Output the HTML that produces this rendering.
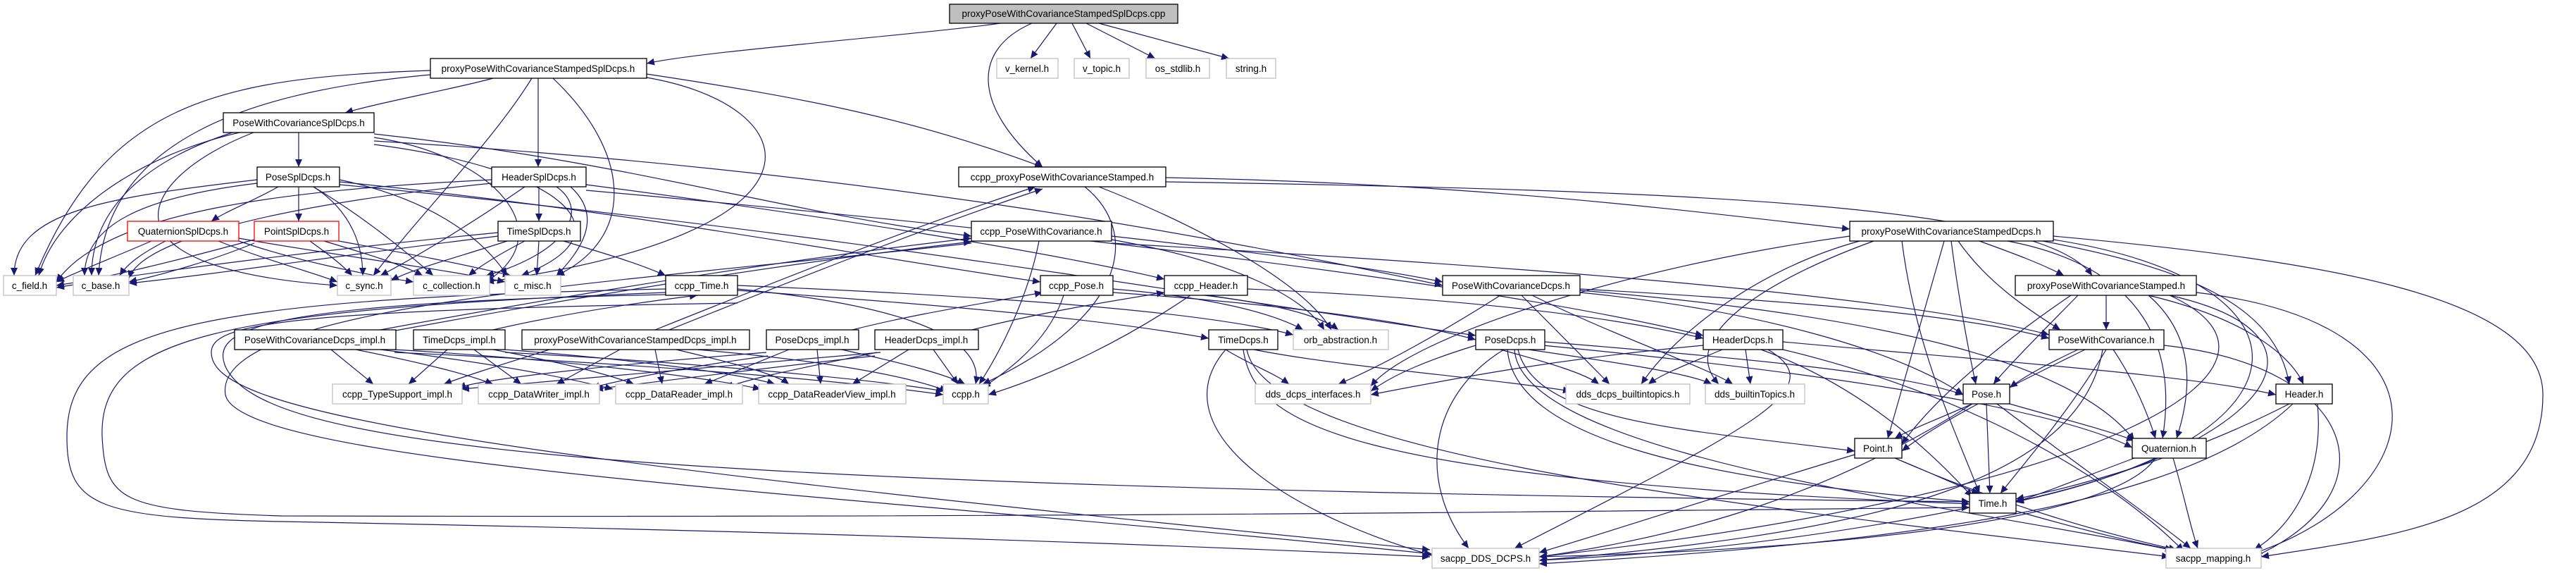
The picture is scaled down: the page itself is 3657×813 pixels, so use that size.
<!DOCTYPE html>
<html><head><meta charset="utf-8"><style>
html,body{margin:0;padding:0;background:#fff;}
svg{display:block;}
text{font-family:"Liberation Sans",sans-serif;font-size:13.5px;fill:#000;}
.e path{fill:none;stroke:#191970;stroke-width:1.2;}
</style></head><body>
<svg width="3657" height="813" viewBox="0 0 3657 813" xmlns="http://www.w3.org/2000/svg">
<defs><marker id="a" markerUnits="userSpaceOnUse" markerWidth="12" markerHeight="10" refX="11" refY="5" orient="auto"><path d="M0,0 L11,5 L0,10 z" fill="#191970"/></marker></defs>
<g class="e" marker-end="url(#a)">
<path marker-end="url(#a)" d="M1420 33 C1300 50 1000 72 918 90"/>
<path marker-end="url(#a)" d="M1465 33 C1380 70 1380 150 1480 237"/>
<path marker-end="url(#a)" d="M1500 33 L1463 83"/>
<path marker-end="url(#a)" d="M1522 33 L1548 83"/>
<path marker-end="url(#a)" d="M1542 33 L1640 83"/>
<path marker-end="url(#a)" d="M1560 33 L1745 83"/>
<path marker-end="url(#a)" d="M700 111 C650 125 540 145 490 160"/>
<path marker-end="url(#a)" d="M611 100 C300 110 150 150 50 391"/>
<path marker-end="url(#a)" d="M611 106 C350 130 150 200 140 391"/>
<path marker-end="url(#a)" d="M755 111 C700 200 600 300 530 391"/>
<path marker-end="url(#a)" d="M764 111 L764 237"/>
<path marker-end="url(#a)" d="M785 111 C900 220 900 340 790 391"/>
<path marker-end="url(#a)" d="M918 105 C1150 140 1300 170 1480 237"/>
<path marker-end="url(#a)" d="M918 110 C1150 150 1200 330 690 400"/>
<path marker-end="url(#a)" d="M424 188 L424 237"/>
<path marker-end="url(#a)" d="M340 188 C200 220 80 300 55 391"/>
<path marker-end="url(#a)" d="M330 188 C200 230 130 300 130 391"/>
<path marker-end="url(#a)" d="M360 188 C200 250 120 380 479 405"/>
<path marker-end="url(#a)" d="M531 195 C700 220 800 330 690 400"/>
<path marker-end="url(#a)" d="M531 205 C800 240 900 330 740 391"/>
<path marker-end="url(#a)" d="M531 190 C900 230 1100 300 1379 335"/>
<path marker-end="url(#a)" d="M531 200 C1200 240 1700 330 2048 405"/>
<path marker-end="url(#a)" d="M395 265 C360 285 320 300 300 314"/>
<path marker-end="url(#a)" d="M424 265 L424 314"/>
<path marker-end="url(#a)" d="M365 255 C150 280 20 300 20 391"/>
<path marker-end="url(#a)" d="M365 260 C200 280 120 320 120 391"/>
<path marker-end="url(#a)" d="M445 265 C500 300 515 350 515 391"/>
<path marker-end="url(#a)" d="M445 265 C520 310 580 360 615 391"/>
<path marker-end="url(#a)" d="M482 255 C600 280 680 330 720 391"/>
<path marker-end="url(#a)" d="M482 258 C900 300 1200 360 1477 400"/>
<path marker-end="url(#a)" d="M482 262 C1200 330 1700 420 2095 476"/>
<path marker-end="url(#a)" d="M765 265 L765 314"/>
<path marker-end="url(#a)" d="M698 255 C400 270 150 300 80 400"/>
<path marker-end="url(#a)" d="M698 260 C400 290 200 340 183 395"/>
<path marker-end="url(#a)" d="M745 265 C680 310 600 360 540 391"/>
<path marker-end="url(#a)" d="M790 265 C840 300 800 360 690 391"/>
<path marker-end="url(#a)" d="M810 265 C860 310 820 360 790 391"/>
<path marker-end="url(#a)" d="M832 262 C1200 310 1500 360 1653 396"/>
<path marker-end="url(#a)" d="M832 270 C1500 330 2100 400 2418 476"/>
<path marker-end="url(#a)" d="M215 342 C150 370 110 385 80 400"/>
<path marker-end="url(#a)" d="M235 342 C200 360 180 375 170 391"/>
<path marker-end="url(#a)" d="M310 342 C380 370 440 385 479 400"/>
<path marker-end="url(#a)" d="M339 342 C420 370 520 390 587 400"/>
<path marker-end="url(#a)" d="M339 338 C460 360 620 380 717 400"/>
<path marker-end="url(#a)" d="M361 340 C250 370 150 395 80 405"/>
<path marker-end="url(#a)" d="M361 345 C300 370 230 390 183 400"/>
<path marker-end="url(#a)" d="M440 342 C465 360 485 375 500 391"/>
<path marker-end="url(#a)" d="M460 342 C520 360 570 375 600 391"/>
<path marker-end="url(#a)" d="M481 342 C580 360 660 375 725 391"/>
<path marker-end="url(#a)" d="M707 330 C500 350 250 380 80 408"/>
<path marker-end="url(#a)" d="M707 335 C500 360 300 390 183 402"/>
<path marker-end="url(#a)" d="M720 342 C650 365 590 380 555 398"/>
<path marker-end="url(#a)" d="M745 342 C710 360 685 375 665 391"/>
<path marker-end="url(#a)" d="M765 342 L762 391"/>
<path marker-end="url(#a)" d="M800 342 C860 360 910 375 945 391"/>
<path marker-end="url(#a)" d="M1540 265 C1620 330 1600 450 1395 545"/>
<path marker-end="url(#a)" d="M1560 265 C1700 320 1850 400 1890 468"/>
<path marker-end="url(#a)" d="M1655 252 C2100 260 2400 300 2626 325"/>
<path marker-end="url(#a)" d="M1655 258 C2400 270 2900 290 2970 391"/>
<path marker-end="url(#a)" d="M1475 342 C1460 420 1420 500 1390 545"/>
<path marker-end="url(#a)" d="M1578 335 C1800 360 1950 380 2048 400"/>
<path marker-end="url(#a)" d="M1578 340 C1750 370 1850 420 1880 468"/>
<path marker-end="url(#a)" d="M1578 345 C2200 380 2700 420 2909 475"/>
<path marker-end="url(#a)" d="M1047 410 C1250 430 1400 470 1385 545"/>
<path marker-end="url(#a)" d="M1047 412 C1300 430 1550 450 1716 480"/>
<path marker-end="url(#a)" d="M1047 405 C1400 420 1700 440 1836 475"/>
<path marker-end="url(#a)" d="M1510 419 C1490 480 1440 520 1395 550"/>
<path marker-end="url(#a)" d="M1580 415 C1800 430 2000 455 2095 482"/>
<path marker-end="url(#a)" d="M1580 410 C1700 420 1800 440 1850 468"/>
<path marker-end="url(#a)" d="M1690 419 C1600 480 1500 530 1403 560"/>
<path marker-end="url(#a)" d="M1771 410 C2000 420 2250 440 2418 480"/>
<path marker-end="url(#a)" d="M1710 419 C1800 430 1870 445 1900 468"/>
<path marker-end="url(#a)" d="M540 468 C800 420 1100 370 1379 338"/>
<path marker-end="url(#a)" d="M545 472 C800 425 1100 375 1379 343"/>
<path marker-end="url(#a)" d="M700 468 C800 445 900 430 990 419"/>
<path marker-end="url(#a)" d="M930 468 C1100 400 1300 320 1470 265"/>
<path marker-end="url(#a)" d="M940 472 C1110 404 1310 324 1480 268"/>
<path marker-end="url(#a)" d="M1210 468 C1300 445 1400 430 1480 415"/>
<path marker-end="url(#a)" d="M1380 468 C1470 445 1560 430 1653 415"/>
<path marker-end="url(#a)" d="M470 496 L530 545"/>
<path marker-end="url(#a)" d="M505 496 C600 515 660 530 700 545"/>
<path marker-end="url(#a)" d="M540 496 C700 515 800 535 870 552"/>
<path marker-end="url(#a)" d="M560 496 C800 510 1000 535 1080 552"/>
<path marker-end="url(#a)" d="M560 500 C900 515 1200 540 1339 560"/>
<path marker-end="url(#a)" d="M635 496 L580 545"/>
<path marker-end="url(#a)" d="M673 496 L740 545"/>
<path marker-end="url(#a)" d="M700 496 C800 515 860 530 900 545"/>
<path marker-end="url(#a)" d="M717 496 C900 510 1050 530 1100 545"/>
<path marker-end="url(#a)" d="M717 500 C1000 515 1250 540 1340 555"/>
<path marker-end="url(#a)" d="M780 496 C720 515 670 530 630 545"/>
<path marker-end="url(#a)" d="M880 496 L790 545"/>
<path marker-end="url(#a)" d="M930 496 L940 545"/>
<path marker-end="url(#a)" d="M960 496 C1040 515 1100 530 1120 545"/>
<path marker-end="url(#a)" d="M990 496 C1150 510 1280 530 1345 555"/>
<path marker-end="url(#a)" d="M1088 500 C900 515 700 535 650 550"/>
<path marker-end="url(#a)" d="M1120 496 L1000 545"/>
<path marker-end="url(#a)" d="M1160 496 L1165 545"/>
<path marker-end="url(#a)" d="M1195 496 C1280 515 1340 530 1370 545"/>
<path marker-end="url(#a)" d="M1090 505 C980 520 900 535 840 550"/>
<path marker-end="url(#a)" d="M1245 500 C1150 520 1070 535 1030 550"/>
<path marker-end="url(#a)" d="M1290 496 L1210 545"/>
<path marker-end="url(#a)" d="M1325 496 L1360 545"/>
<path marker-end="url(#a)" d="M1242 505 C1100 520 950 540 845 552"/>
<path marker-end="url(#a)" d="M1250 500 C1000 520 800 540 655 552"/>
<path marker-end="url(#a)" d="M2130 419 C2050 470 1960 520 1900 545"/>
<path marker-end="url(#a)" d="M2160 419 C2220 480 2260 520 2285 545"/>
<path marker-end="url(#a)" d="M2175 419 C2300 480 2420 520 2460 545"/>
<path marker-end="url(#a)" d="M2243 410 C2600 430 2800 450 2909 480"/>
<path marker-end="url(#a)" d="M2243 415 C2500 440 2700 500 2787 560"/>
<path marker-end="url(#a)" d="M2243 412 C2700 450 2950 520 3030 625"/>
<path marker-end="url(#a)" d="M1740 496 C1770 515 1810 530 1830 545"/>
<path marker-end="url(#a)" d="M1765 496 C1780 600 1900 680 2796 715"/>
<path marker-end="url(#a)" d="M1740 496 C1650 600 1800 720 2033 788"/>
<path marker-end="url(#a)" d="M1770 496 C1800 650 2500 720 3080 790"/>
<path marker-end="url(#a)" d="M1780 496 C1900 520 2100 535 2230 555"/>
<path marker-end="url(#a)" d="M2095 490 C2030 510 1980 530 1946 555"/>
<path marker-end="url(#a)" d="M2130 496 C2200 515 2250 530 2270 545"/>
<path marker-end="url(#a)" d="M2170 496 C2300 515 2400 530 2430 545"/>
<path marker-end="url(#a)" d="M2155 496 C2180 600 2400 610 2633 640"/>
<path marker-end="url(#a)" d="M2190 490 C2500 520 2900 570 3027 635"/>
<path marker-end="url(#a)" d="M2140 496 C2150 620 2400 680 2796 712"/>
<path marker-end="url(#a)" d="M2135 496 C2030 560 2010 680 2085 778"/>
<path marker-end="url(#a)" d="M2150 496 C2160 650 2800 720 3090 782"/>
<path marker-end="url(#a)" d="M2193 485 C2500 510 2700 530 2787 560"/>
<path marker-end="url(#a)" d="M2418 490 C2200 510 2050 540 1946 560"/>
<path marker-end="url(#a)" d="M2445 496 C2400 515 2360 530 2340 545"/>
<path marker-end="url(#a)" d="M2478 496 L2485 545"/>
<path marker-end="url(#a)" d="M2531 485 C2800 510 3100 530 3231 560"/>
<path marker-end="url(#a)" d="M2500 496 C2650 550 2750 650 2800 705"/>
<path marker-end="url(#a)" d="M2510 496 C2600 550 2500 600 2150 778"/>
<path marker-end="url(#a)" d="M2531 496 C2800 560 3000 680 3100 782"/>
<path marker-end="url(#a)" d="M2810 342 C2860 360 2900 375 2930 391"/>
<path marker-end="url(#a)" d="M2780 342 C2820 400 2880 440 2925 468"/>
<path marker-end="url(#a)" d="M2770 342 C2780 420 2795 500 2805 545"/>
<path marker-end="url(#a)" d="M2900 342 C3100 380 3230 430 3250 545"/>
<path marker-end="url(#a)" d="M2760 342 C2730 450 2700 550 2680 622"/>
<path marker-end="url(#a)" d="M2850 342 C3050 380 3090 500 3070 622"/>
<path marker-end="url(#a)" d="M2700 342 C2720 500 2780 620 2810 700"/>
<path marker-end="url(#a)" d="M2915 335 C3300 370 3610 420 3610 560 C3610 740 3400 760 3210 790"/>
<path marker-end="url(#a)" d="M2626 335 C2300 380 2000 480 1946 548"/>
<path marker-end="url(#a)" d="M2640 342 C2500 380 2380 470 2330 545"/>
<path marker-end="url(#a)" d="M2660 342 C2500 400 2380 480 2440 545"/>
<path marker-end="url(#a)" d="M2915 340 C3300 400 3300 620 2862 712"/>
<path marker-end="url(#a)" d="M2990 419 L2990 468"/>
<path marker-end="url(#a)" d="M2950 419 C2900 470 2850 520 2830 545"/>
<path marker-end="url(#a)" d="M3050 419 C3120 480 3110 560 3090 622"/>
<path marker-end="url(#a)" d="M2940 419 C2850 480 2750 560 2700 630"/>
<path marker-end="url(#a)" d="M3050 419 C3180 450 3250 500 3270 545"/>
<path marker-end="url(#a)" d="M3080 419 C3350 480 3200 640 2860 712"/>
<path marker-end="url(#a)" d="M3118 415 C3500 460 3450 700 3200 785"/>
<path marker-end="url(#a)" d="M3080 419 C3300 520 3000 700 2185 790"/>
<path marker-end="url(#a)" d="M2950 496 C2910 515 2880 530 2853 550"/>
<path marker-end="url(#a)" d="M3000 496 C3030 540 3050 590 3060 622"/>
<path marker-end="url(#a)" d="M2990 496 C2940 580 2880 650 2840 700"/>
<path marker-end="url(#a)" d="M2960 496 C2850 550 2750 600 2700 640"/>
<path marker-end="url(#a)" d="M2985 496 C2950 700 2600 760 2185 795"/>
<path marker-end="url(#a)" d="M3072 490 C3350 520 3400 700 3200 790"/>
<path marker-end="url(#a)" d="M2800 573 C2750 595 2710 610 2690 622"/>
<path marker-end="url(#a)" d="M2853 573 C2930 595 2990 610 3030 625"/>
<path marker-end="url(#a)" d="M2820 573 L2825 700"/>
<path marker-end="url(#a)" d="M2800 573 C2600 700 2400 760 2185 790"/>
<path marker-end="url(#a)" d="M2835 573 C2950 660 3050 730 3110 778"/>
<path marker-end="url(#a)" d="M3250 573 C3100 650 2950 690 2862 708"/>
<path marker-end="url(#a)" d="M3255 573 C3100 720 2700 770 2185 800"/>
<path marker-end="url(#a)" d="M3290 573 C3300 680 3250 750 3200 780"/>
<path marker-end="url(#a)" d="M2690 650 C2740 670 2780 690 2810 700"/>
<path marker-end="url(#a)" d="M2633 645 C2450 700 2300 750 2185 784"/>
<path marker-end="url(#a)" d="M2690 650 C2850 720 3000 760 3090 780"/>
<path marker-end="url(#a)" d="M3030 650 C2950 680 2900 700 2862 712"/>
<path marker-end="url(#a)" d="M3060 650 C3000 740 2600 780 2185 790"/>
<path marker-end="url(#a)" d="M3085 650 C3100 700 3110 750 3120 778"/>
<path marker-end="url(#a)" d="M2796 720 C2600 760 2400 785 2185 795"/>
<path marker-end="url(#a)" d="M2862 725 C2950 750 3030 770 3085 780"/>
<path marker-end="url(#a)" d="M945 410 C250 425 95 470 95 620 C95 720 140 735 400 740 C1200 755 1700 775 2030 790"/>
<path marker-end="url(#a)" d="M945 415 C300 440 140 480 145 620 C150 710 170 725 400 732 C1500 735 2300 725 2796 720"/>
<path marker-end="url(#a)" d="M1047 430 C400 440 300 460 300 500 C300 580 600 640 2030 780"/>
<path marker-end="url(#a)" d="M945 418 C350 430 300 470 320 520 C370 630 800 690 2796 712"/>
<path marker-end="url(#a)" d="M1379 345 C900 400 300 430 320 560 C340 660 1200 700 2033 786"/>
</g>
<g stroke-width="1.3">
<rect x="1348" y="6" width="324" height="27" fill="#bfbfbf" stroke="#000"/>
<rect x="611" y="83" width="307" height="28" fill="#fff" stroke="#000"/>
<rect x="1415" y="83" width="87" height="28" fill="#fff" stroke="#bfbfbf"/>
<rect x="1525" y="83" width="78" height="28" fill="#fff" stroke="#bfbfbf"/>
<rect x="1627" y="83" width="90" height="28" fill="#fff" stroke="#bfbfbf"/>
<rect x="1741" y="83" width="70" height="28" fill="#fff" stroke="#bfbfbf"/>
<rect x="317" y="160" width="214" height="28" fill="#fff" stroke="#000"/>
<rect x="365" y="237" width="117" height="28" fill="#fff" stroke="#000"/>
<rect x="698" y="237" width="134" height="28" fill="#fff" stroke="#000"/>
<rect x="1361" y="237" width="294" height="28" fill="#fff" stroke="#000"/>
<rect x="181" y="314" width="158" height="28" fill="#fff" stroke="#ff0000"/>
<rect x="361" y="314" width="120" height="28" fill="#fff" stroke="#ff0000"/>
<rect x="707" y="314" width="117" height="28" fill="#fff" stroke="#000"/>
<rect x="1379" y="314" width="199" height="28" fill="#fff" stroke="#000"/>
<rect x="2626" y="314" width="289" height="28" fill="#fff" stroke="#000"/>
<rect x="5" y="391" width="75" height="28" fill="#fff" stroke="#bfbfbf"/>
<rect x="104" y="391" width="79" height="28" fill="#fff" stroke="#bfbfbf"/>
<rect x="479" y="391" width="76" height="28" fill="#fff" stroke="#bfbfbf"/>
<rect x="587" y="391" width="108" height="28" fill="#fff" stroke="#bfbfbf"/>
<rect x="717" y="391" width="79" height="28" fill="#fff" stroke="#bfbfbf"/>
<rect x="945" y="391" width="102" height="28" fill="#fff" stroke="#000"/>
<rect x="1477" y="391" width="103" height="28" fill="#fff" stroke="#000"/>
<rect x="1653" y="391" width="118" height="28" fill="#fff" stroke="#000"/>
<rect x="2048" y="391" width="195" height="28" fill="#fff" stroke="#000"/>
<rect x="2861" y="391" width="257" height="28" fill="#fff" stroke="#000"/>
<rect x="333" y="468" width="229" height="28" fill="#fff" stroke="#000"/>
<rect x="587" y="468" width="130" height="28" fill="#fff" stroke="#000"/>
<rect x="741" y="468" width="323" height="28" fill="#fff" stroke="#000"/>
<rect x="1088" y="468" width="131" height="28" fill="#fff" stroke="#000"/>
<rect x="1242" y="468" width="147" height="28" fill="#fff" stroke="#000"/>
<rect x="1716" y="468" width="98" height="28" fill="#fff" stroke="#000"/>
<rect x="1836" y="468" width="135" height="28" fill="#fff" stroke="#bfbfbf"/>
<rect x="2095" y="468" width="98" height="28" fill="#fff" stroke="#000"/>
<rect x="2418" y="468" width="113" height="28" fill="#fff" stroke="#000"/>
<rect x="2909" y="468" width="163" height="28" fill="#fff" stroke="#000"/>
<rect x="472" y="545" width="184" height="28" fill="#fff" stroke="#bfbfbf"/>
<rect x="679" y="545" width="172" height="28" fill="#fff" stroke="#bfbfbf"/>
<rect x="874" y="545" width="180" height="28" fill="#fff" stroke="#bfbfbf"/>
<rect x="1077" y="545" width="209" height="28" fill="#fff" stroke="#bfbfbf"/>
<rect x="1339" y="545" width="64" height="28" fill="#fff" stroke="#bfbfbf"/>
<rect x="1782" y="545" width="164" height="28" fill="#fff" stroke="#bfbfbf"/>
<rect x="2223" y="545" width="176" height="28" fill="#fff" stroke="#bfbfbf"/>
<rect x="2421" y="545" width="141" height="28" fill="#fff" stroke="#bfbfbf"/>
<rect x="2787" y="545" width="66" height="28" fill="#fff" stroke="#000"/>
<rect x="3231" y="545" width="80" height="28" fill="#fff" stroke="#000"/>
<rect x="2633" y="622" width="67" height="28" fill="#fff" stroke="#000"/>
<rect x="3027" y="622" width="105" height="28" fill="#fff" stroke="#000"/>
<rect x="2796" y="700" width="66" height="28" fill="#fff" stroke="#000"/>
<rect x="2033" y="778" width="152" height="28" fill="#fff" stroke="#bfbfbf"/>
<rect x="3075" y="778" width="135" height="28" fill="#fff" stroke="#bfbfbf"/>
</g>
<g text-anchor="middle">
<text x="1510" y="24">proxyPoseWithCovarianceStampedSplDcps.cpp</text>
<text x="764" y="102">proxyPoseWithCovarianceStampedSplDcps.h</text>
<text x="1458" y="102">v_kernel.h</text>
<text x="1564" y="102">v_topic.h</text>
<text x="1672" y="102">os_stdlib.h</text>
<text x="1776" y="102">string.h</text>
<text x="424" y="179">PoseWithCovarianceSplDcps.h</text>
<text x="423" y="256">PoseSplDcps.h</text>
<text x="765" y="256">HeaderSplDcps.h</text>
<text x="1508" y="256">ccpp_proxyPoseWithCovarianceStamped.h</text>
<text x="260" y="333">QuaternionSplDcps.h</text>
<text x="421" y="333">PointSplDcps.h</text>
<text x="765" y="333">TimeSplDcps.h</text>
<text x="1478" y="333">ccpp_PoseWithCovariance.h</text>
<text x="2770" y="333">proxyPoseWithCovarianceStampedDcps.h</text>
<text x="42" y="410">c_field.h</text>
<text x="143" y="410">c_base.h</text>
<text x="517" y="410">c_sync.h</text>
<text x="641" y="410">c_collection.h</text>
<text x="756" y="410">c_misc.h</text>
<text x="996" y="410">ccpp_Time.h</text>
<text x="1528" y="410">ccpp_Pose.h</text>
<text x="1712" y="410">ccpp_Header.h</text>
<text x="2145" y="410">PoseWithCovarianceDcps.h</text>
<text x="2990" y="410">proxyPoseWithCovarianceStamped.h</text>
<text x="447" y="487">PoseWithCovarianceDcps_impl.h</text>
<text x="652" y="487">TimeDcps_impl.h</text>
<text x="902" y="487">proxyPoseWithCovarianceStampedDcps_impl.h</text>
<text x="1153" y="487">PoseDcps_impl.h</text>
<text x="1315" y="487">HeaderDcps_impl.h</text>
<text x="1765" y="487">TimeDcps.h</text>
<text x="1903" y="487">orb_abstraction.h</text>
<text x="2144" y="487">PoseDcps.h</text>
<text x="2474" y="487">HeaderDcps.h</text>
<text x="2990" y="487">PoseWithCovariance.h</text>
<text x="564" y="564">ccpp_TypeSupport_impl.h</text>
<text x="765" y="564">ccpp_DataWriter_impl.h</text>
<text x="964" y="564">ccpp_DataReader_impl.h</text>
<text x="1181" y="564">ccpp_DataReaderView_impl.h</text>
<text x="1371" y="564">ccpp.h</text>
<text x="1864" y="564">dds_dcps_interfaces.h</text>
<text x="2311" y="564">dds_dcps_builtintopics.h</text>
<text x="2491" y="564">dds_builtinTopics.h</text>
<text x="2820" y="564">Pose.h</text>
<text x="3271" y="564">Header.h</text>
<text x="2666" y="641">Point.h</text>
<text x="3079" y="641">Quaternion.h</text>
<text x="2829" y="719">Time.h</text>
<text x="2109" y="797">sacpp_DDS_DCPS.h</text>
<text x="3142" y="797">sacpp_mapping.h</text>
</g>
</svg>
</body></html>
